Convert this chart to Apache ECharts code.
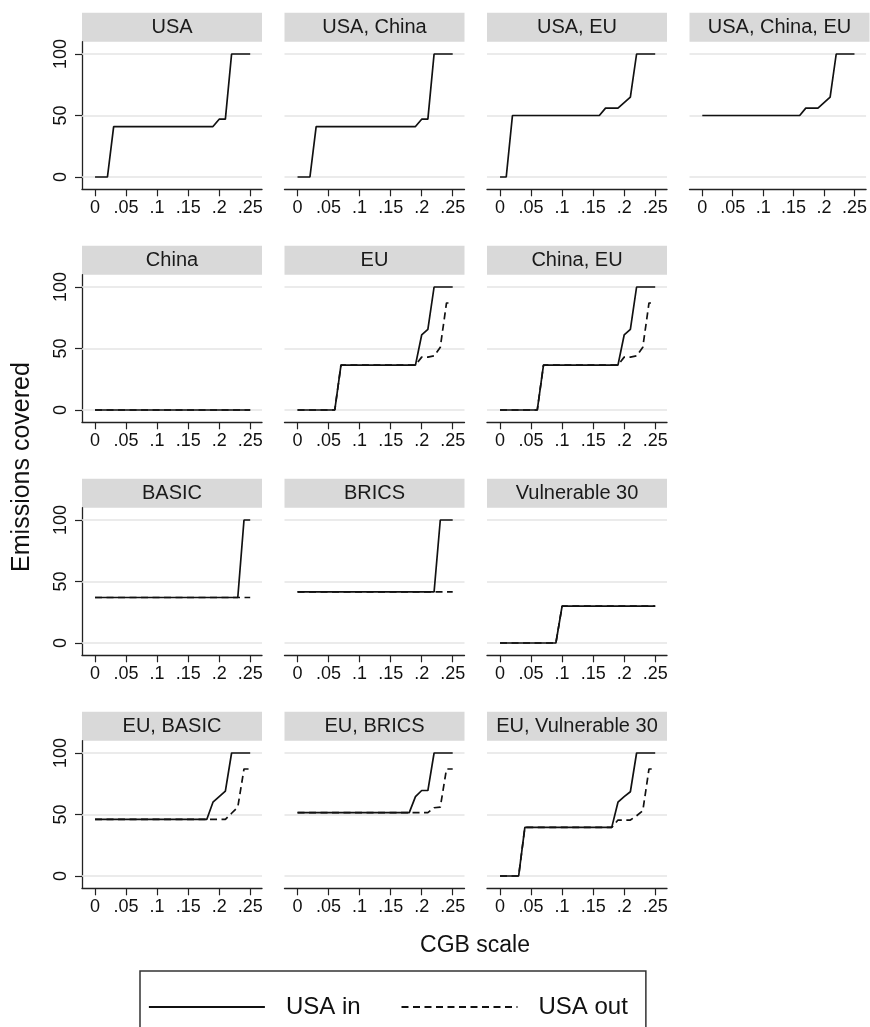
<!DOCTYPE html>
<html><head><meta charset="utf-8">
<script src="https://cdn.jsdelivr.net/npm/echarts@6/dist/echarts.min.js"></script>
<style>html,body{margin:0;padding:0;background:#fff}#c{width:870px;height:1027px}</style>
</head><body><div id="c"></div>
<script>
// ---------- data ----------
const cgbScale = [0,0.01,0.02,0.03,0.04,0.05,0.06,0.07,0.08,0.09,0.10,0.11,0.12,0.13,0.14,0.15,0.16,0.17,0.18,0.19,0.20,0.21,0.22,0.23,0.24,0.25];
const xTicks = [0,0.05,0.1,0.15,0.2,0.25];
const yTicks = [0,50,100];
const panelTitles = ["USA","USA, China","USA, EU","USA, China, EU","China","EU","China, EU","BASIC","BRICS","Vulnerable 30","EU, BASIC","EU, BRICS","EU, Vulnerable 30"];
const seriesNames = ["USA in","USA out"];

const usaIn        = [0,0,0,41,41,41,41,41,41,41,41,41,41,41,41,41,41,41,41,41,47,47,100,100,100,100];
const usaChinaIn   = [0,0,0,41,41,41,41,41,41,41,41,41,41,41,41,41,41,41,41,41,47,47,100,100,100,100];
const usaEuIn      = [0,0,50,50,50,50,50,50,50,50,50,50,50,50,50,50,50,56,56,56,60.5,65,100,100,100,100];
const usaChinaEuIn = [50,50,50,50,50,50,50,50,50,50,50,50,50,50,50,50,50,56,56,56,60.5,65,100,100,100,100];
const chinaIn      = [0,0,0,0,0,0,0,0,0,0,0,0,0,0,0,0,0,0,0,0,0,0,0,0,0,0];
const chinaOut     = [0,0,0,0,0,0,0,0,0,0,0,0,0,0,0,0,0,0,0,0,0,0,0,0,0,0];
const euIn         = [0,0,0,0,0,0,0,36.5,36.5,36.5,36.5,36.5,36.5,36.5,36.5,36.5,36.5,36.5,36.5,36.5,61,65.5,100,100,100,100];
const euOut        = [0,0,0,0,0,0,0,36.5,36.5,36.5,36.5,36.5,36.5,36.5,36.5,36.5,36.5,36.5,36.5,36.5,43,43,44,51,87,87];
const chinaEuIn    = [0,0,0,0,0,0,0,36.5,36.5,36.5,36.5,36.5,36.5,36.5,36.5,36.5,36.5,36.5,36.5,36.5,61,65.5,100,100,100,100];
const chinaEuOut   = [0,0,0,0,0,0,0,36.5,36.5,36.5,36.5,36.5,36.5,36.5,36.5,36.5,36.5,36.5,36.5,36.5,43,43,44,51,87,87];
const basicIn      = [37,37,37,37,37,37,37,37,37,37,37,37,37,37,37,37,37,37,37,37,37,37,37,37,100,100];
const basicOut     = [37,37,37,37,37,37,37,37,37,37,37,37,37,37,37,37,37,37,37,37,37,37,37,37,37,37];
const bricsIn      = [41.5,41.5,41.5,41.5,41.5,41.5,41.5,41.5,41.5,41.5,41.5,41.5,41.5,41.5,41.5,41.5,41.5,41.5,41.5,41.5,41.5,41.5,41.5,100,100,100];
const bricsOut     = [41.5,41.5,41.5,41.5,41.5,41.5,41.5,41.5,41.5,41.5,41.5,41.5,41.5,41.5,41.5,41.5,41.5,41.5,41.5,41.5,41.5,41.5,41.5,41.5,41.5,41.5];
const vul30In      = [0,0,0,0,0,0,0,0,0,0,30,30,30,30,30,30,30,30,30,30,30,30,30,30,30,30];
const vul30Out     = [0,0,0,0,0,0,0,0,0,0,30,30,30,30,30,30,30,30,30,30,30,30,30,30,30,30];
const euBasicIn    = [46,46,46,46,46,46,46,46,46,46,46,46,46,46,46,46,46,46,46,60,64.5,69,100,100,100,100];
const euBasicOut   = [46,46,46,46,46,46,46,46,46,46,46,46,46,46,46,46,46,46,46,46,46,46,51,56,87,87];
const euBricsIn    = [51.5,51.5,51.5,51.5,51.5,51.5,51.5,51.5,51.5,51.5,51.5,51.5,51.5,51.5,51.5,51.5,51.5,51.5,51.5,64.5,69.5,69.5,100,100,100,100];
const euBricsOut   = [51.5,51.5,51.5,51.5,51.5,51.5,51.5,51.5,51.5,51.5,51.5,51.5,51.5,51.5,51.5,51.5,51.5,51.5,51.5,51.5,51.5,51.5,55.5,56,87,87];
const euVul30In    = [0,0,0,0,39.5,39.5,39.5,39.5,39.5,39.5,39.5,39.5,39.5,39.5,39.5,39.5,39.5,39.5,39.5,60,64.5,68.5,100,100,100,100];
const euVul30Out   = [0,0,0,0,39.5,39.5,39.5,39.5,39.5,39.5,39.5,39.5,39.5,39.5,39.5,39.5,39.5,39.5,39.5,45.5,45.5,45.5,49,53,87,87];

// ---------- layout ----------
const FONT = '"Liberation Sans", Arial, Helvetica, sans-serif';
const colLeft = [82, 284.5, 487, 689.5];
const rowTop = [41.7, 274.7, 507.7, 740.7];
const plotW = 180, plotH = 147.6, stripH = 29;
const panels = [
  {inn: usaIn, out: null, r: 0, c: 0},
  {inn: usaChinaIn, out: null, r: 0, c: 1},
  {inn: usaEuIn, out: null, r: 0, c: 2},
  {inn: usaChinaEuIn, out: null, r: 0, c: 3},
  {inn: chinaIn, out: chinaOut, r: 1, c: 0},
  {inn: euIn, out: euOut, r: 1, c: 1},
  {inn: chinaEuIn, out: chinaEuOut, r: 1, c: 2},
  {inn: basicIn, out: basicOut, r: 2, c: 0},
  {inn: bricsIn, out: bricsOut, r: 2, c: 1},
  {inn: vul30In, out: vul30Out, r: 2, c: 2},
  {inn: euBasicIn, out: euBasicOut, r: 3, c: 0},
  {inn: euBricsIn, out: euBricsOut, r: 3, c: 1},
  {inn: euVul30In, out: euVul30Out, r: 3, c: 2}
];

const grid = [], xAxis = [], yAxis = [], series = [], graphic = [];
const pair = (arr) => cgbScale.map((x, i) => [x, arr[i]]);
const xFmt = v => { const n = +(+v).toFixed(2); return n === 0 ? '0' : String(n).replace(/^0\./, '.'); };

panels.forEach((p, i) => {
  const left = colLeft[p.c], top = rowTop[p.r];
  grid.push({left: left, top: top, width: plotW, height: plotH, containLabel: false});
  xAxis.push({
    type: 'value', gridIndex: i, min: -0.021, max: 0.269,
    axisLine: {show: true, onZero: false, lineStyle: {color: '#222', width: 1.3}},
    axisTick: {show: true, length: 7, customValues: xTicks, lineStyle: {color: '#222', width: 1.2}},
    axisLabel: {show: true, customValues: xTicks, formatter: xFmt, margin: 10, fontSize: 18, fontFamily: FONT, color: '#111'},
    splitLine: {show: false}
  });
  const first = p.c === 0;
  yAxis.push({
    type: 'value', gridIndex: i, min: -10, max: 110,
    axisLine: {show: first, onZero: false, lineStyle: {color: '#222', width: 1.3}},
    axisTick: {show: first, length: 7, customValues: yTicks, lineStyle: {color: '#222', width: 1.2}},
    axisLabel: {show: first, customValues: yTicks, rotate: 90, margin: 12, fontSize: 18, fontFamily: FONT, color: '#111'},
    splitLine: {show: false}
  });
  const gridLines = {
    silent: true, symbol: 'none', z: 1, animation: false,
    label: {show: false},
    lineStyle: {color: '#e4e4e4', width: 1.5, type: 'solid'},
    emphasis: {disabled: true},
    data: yTicks.map(v => ({yAxis: v}))
  };
  if (p.out) {
    series.push({
      type: 'line', name: seriesNames[1], xAxisIndex: i, yAxisIndex: i,
      data: pair(p.out), symbol: 'none', z: 2,
      lineStyle: {color: '#111', width: 1.7, type: [7, 4.5]}, itemStyle: {color: '#111'},
      emphasis: {disabled: true}
    });
  }
  series.push({
    type: 'line', name: seriesNames[0], xAxisIndex: i, yAxisIndex: i,
    data: pair(p.inn), symbol: 'none', z: 3,
    lineStyle: {color: '#111', width: 1.7, type: 'solid'}, itemStyle: {color: '#111'},
    emphasis: {disabled: true},
    markLine: gridLines
  });
  graphic.push({type: 'rect', left: left, top: top - stripH, shape: {width: plotW, height: stripH}, style: {fill: '#d9d9d9'}, silent: true});
  graphic.push({type: 'text', x: left + plotW / 2, y: top - stripH / 2, style: {text: panelTitles[i], fontSize: 20, fontFamily: FONT, fill: '#1a1a1a', align: 'center', verticalAlign: 'middle'}, silent: true});
});

graphic.push({type: 'text', x: 22, y: 467, rotation: Math.PI / 2, style: {text: 'Emissions covered', fontSize: 25, fontFamily: FONT, fill: '#111', align: 'center', verticalAlign: 'middle'}, silent: true});
graphic.push({type: 'text', x: 475, y: 946, style: {text: 'CGB scale', fontSize: 23, fontFamily: FONT, fill: '#111', align: 'center', verticalAlign: 'middle'}, silent: true});

const chart = echarts.init(document.getElementById('c'), null, {renderer: 'canvas'});
chart.setOption({
  animation: false,
  backgroundColor: '#fff',
  grid, xAxis, yAxis, series, graphic,
  legend: {
    data: seriesNames, left: 140, top: 971, orient: 'horizontal',
    itemWidth: 116, itemHeight: 20, itemGap: 40,
    borderColor: '#333', borderWidth: 1.5, padding: [24, 18, 40, 8],
    itemStyle: {opacity: 0, borderWidth: 0},
    lineStyle: {width: 1.8},
    textStyle: {fontSize: 24, fontFamily: FONT, color: '#111', padding: [0, 0, 0, 16]},
    selectedMode: false
  }
});
</script></body></html>
